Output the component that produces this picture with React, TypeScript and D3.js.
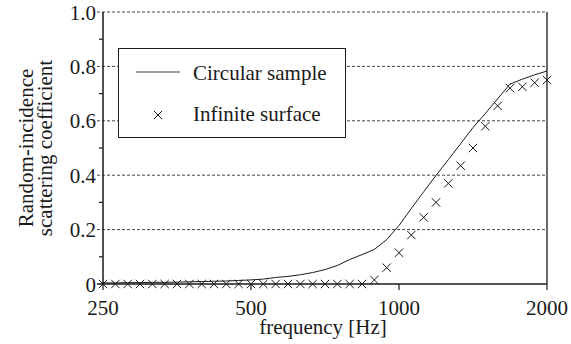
import { useEffect, useRef } from "react"
import * as d3 from "d3"

// 1/12-octave frequencies (Hz)
const frequencies = [
  250, 264.9, 280.6, 297.3, 315.0, 333.7, 353.6, 374.6, 396.9, 420.4, 445.4, 471.9,
  500, 529.7, 561.2, 594.6, 630.0, 667.4, 707.1, 749.2, 793.7, 840.9, 890.9, 943.9,
  1000, 1059.5, 1122.5, 1189.2, 1259.9, 1334.8, 1414.2, 1498.3, 1587.4, 1681.8, 1781.8, 1887.7,
  2000,
]

const circularSample = [
  0.004, 0.004, 0.005, 0.005, 0.006, 0.006, 0.007, 0.008, 0.009, 0.01, 0.011, 0.013,
  0.015, 0.018, 0.024, 0.028, 0.034, 0.042, 0.053, 0.068, 0.09, 0.108, 0.127, 0.163,
  0.215, 0.278, 0.339, 0.399, 0.457, 0.516, 0.575, 0.627, 0.681, 0.735, 0.753, 0.769,
  0.783,
]

const infiniteSurface = [
  0, 0, 0, 0, 0, 0, 0, 0, 0, 0, 0, 0,
  0, 0, 0, 0, 0, 0, 0, 0, 0, 0, 0.015, 0.06,
  0.115, 0.18, 0.245, 0.3, 0.37, 0.435, 0.5, 0.58, 0.655, 0.72, 0.725, 0.74,
  0.75,
]

const xTicks = [250, 500, 1000, 2000]
const yMajor = [0, 0.2, 0.4, 0.6, 0.8, 1.0]
const yMinor = [0.1, 0.3, 0.5, 0.7, 0.9]
const legendLabels = ["Circular sample", "Infinite surface"]

export default function App() {
  const svgRef = useRef<SVGSVGElement>(null)

  useEffect(() => {
    if (!svgRef.current) return
    const width = 571
    const height = 344
    const margin = { top: 12, right: 24, bottom: 60, left: 103 }
    const ink = "#1a1a1a"

    const svg = d3.select(svgRef.current).attr("width", width).attr("height", height)
    svg.selectAll("*").remove()

    const x = d3.scaleLog().domain([250, 2000]).range([margin.left, width - margin.right])
    const y = d3.scaleLinear().domain([0, 1]).range([height - margin.bottom, margin.top])
    const x0 = x.range()[0]
    const x1 = x.range()[1]

    // dashed grid
    svg.append("g")
      .selectAll("line")
      .data(yMajor.filter((d) => d > 0))
      .enter()
      .append("line")
      .attr("x1", x0 - 6)
      .attr("x2", x1)
      .attr("y1", (d) => y(d))
      .attr("y2", (d) => y(d))
      .attr("stroke", "#444")
      .attr("stroke-width", 1)
      .attr("stroke-dasharray", "3,2")

    // minor y ticks
    svg.append("g")
      .selectAll("line")
      .data(yMinor)
      .enter()
      .append("line")
      .attr("x1", x0 - 4)
      .attr("x2", x0)
      .attr("y1", (d) => y(d))
      .attr("y2", (d) => y(d))
      .attr("stroke", ink)
      .attr("stroke-width", 1.2)

    // y labels
    svg.append("g")
      .selectAll("text")
      .data(yMajor)
      .enter()
      .append("text")
      .attr("x", x0 - 7)
      .attr("y", (d) => y(d))
      .attr("dy", "0.36em")
      .attr("text-anchor", "end")
      .attr("fill", ink)
      .text((d) => (d === 0 ? "0" : d3.format(".1f")(d)))

    // x ticks + labels
    svg.append("g")
      .selectAll("line")
      .data(xTicks)
      .enter()
      .append("line")
      .attr("x1", (d) => x(d))
      .attr("x2", (d) => x(d))
      .attr("y1", y(0))
      .attr("y2", y(0) + 6)
      .attr("stroke", ink)
      .attr("stroke-width", 1.2)

    svg.append("g")
      .selectAll("text")
      .data(xTicks)
      .enter()
      .append("text")
      .attr("x", (d) => x(d))
      .attr("y", 315)
      .attr("text-anchor", "middle")
      .attr("fill", ink)
      .text((d) => String(d))

    // axes frame: left, bottom, right
    svg.append("line").attr("x1", x0).attr("x2", x0).attr("y1", y(1)).attr("y2", y(0))
      .attr("stroke", ink).attr("stroke-width", 1.5)
    svg.append("line").attr("x1", x0 - 6).attr("x2", x1).attr("y1", y(0)).attr("y2", y(0))
      .attr("stroke", ink).attr("stroke-width", 1.3)
    svg.append("line").attr("x1", x1).attr("x2", x1).attr("y1", y(1)).attr("y2", y(0))
      .attr("stroke", ink).attr("stroke-width", 1.3)

    // circular sample line
    const line = d3.line<number>()
      .x((_, i) => x(frequencies[i]))
      .y((d) => y(d))
    svg.append("path")
      .datum(circularSample)
      .attr("d", line)
      .attr("fill", "none")
      .attr("stroke", ink)
      .attr("stroke-width", 1)

    // infinite surface crosses
    const s = 4.2
    const cross = (cx: number, cy: number) =>
      `M${cx - s},${cy - s}L${cx + s},${cy + s}M${cx - s},${cy + s}L${cx + s},${cy - s}`
    svg.append("g")
      .selectAll("path")
      .data(infiniteSurface)
      .enter()
      .append("path")
      .attr("d", (d, i) => cross(x(frequencies[i]), y(d)))
      .attr("stroke", ink)
      .attr("stroke-width", 1)
      .attr("fill", "none")

    // legend
    const lg = svg.append("g")
    lg.append("rect")
      .attr("x", 118.5).attr("y", 48.5).attr("width", 227).attr("height", 89)
      .attr("fill", "#fff").attr("stroke", ink).attr("stroke-width", 1)
    lg.append("line").attr("x1", 136).attr("x2", 180).attr("y1", 72).attr("y2", 72)
      .attr("stroke", "#444").attr("stroke-width", 1.2)
    lg.append("path").attr("d", cross(158, 115)).attr("stroke", ink).attr("stroke-width", 1).attr("fill", "none")
    lg.selectAll("text")
      .data(legendLabels)
      .enter()
      .append("text")
      .attr("x", 193)
      .attr("y", (_, i) => (i === 0 ? 80 : 121))
      .attr("fill", ink)
      .text((d) => d)

    // axis titles
    svg.append("text")
      .attr("x", 323).attr("y", 334)
      .attr("text-anchor", "middle")
      .attr("fill", ink)
      .text("frequency [Hz]")

    const yt = svg.append("text")
      .attr("transform", "translate(33,148) rotate(-90)")
      .attr("text-anchor", "middle")
      .attr("fill", ink)
    yt.append("tspan").attr("x", 0).attr("y", 0).text("Random-incidence")
    yt.append("tspan").attr("x", 0).attr("y", 19).text("scattering coefficient")
  }, [])

  return (
    <svg
      ref={svgRef}
      style={{
        position: "absolute",
        left: 0,
        top: 0,
        background: "#fff",
        fontFamily: "Liberation Serif, serif",
        fontSize: 21,
      }}
    />
  )
}
